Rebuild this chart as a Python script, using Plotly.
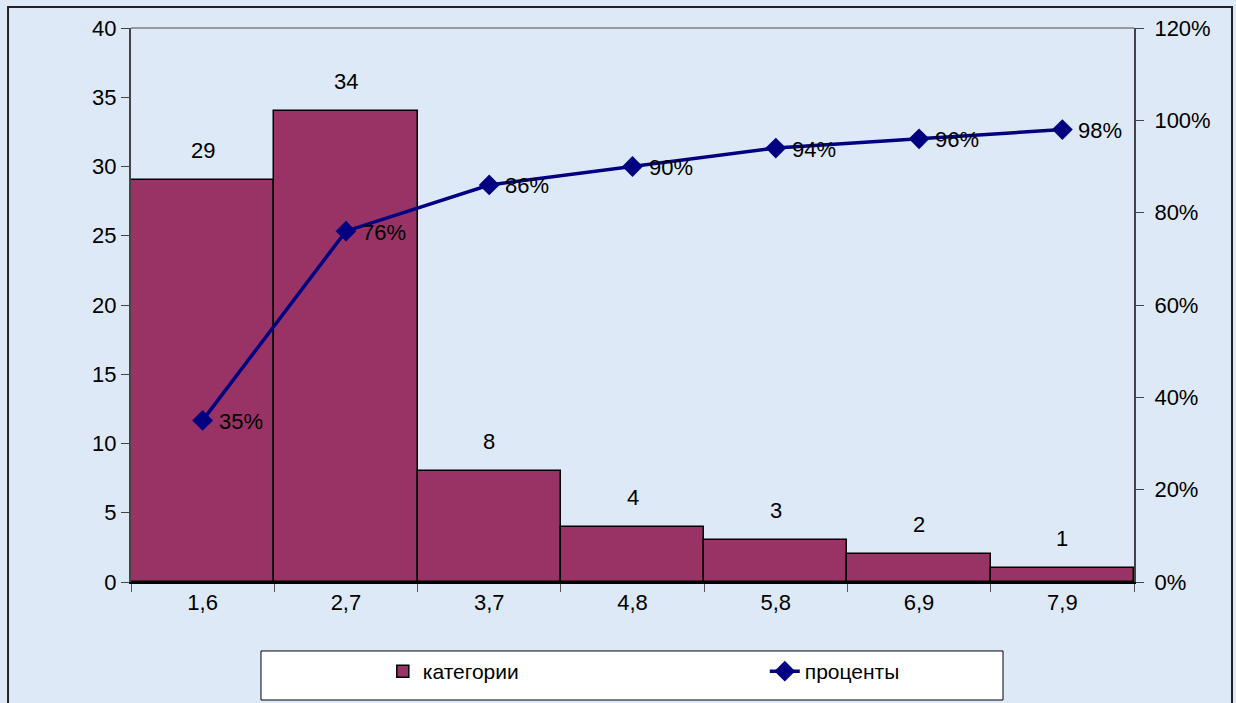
import plotly.graph_objects as go

# Pareto data: class centres, frequencies and cumulative shares
categories = ["1,6", "2,7", "3,7", "4,8", "5,8", "6,9", "7,9"]
counts = [29, 34, 8, 4, 3, 2, 1]
cumulative = [0.35, 0.76, 0.86, 0.90, 0.94, 0.96, 0.98]
count_axis_ticks = [0, 5, 10, 15, 20, 25, 30, 35, 40]
share_axis_ticks = [0, 0.2, 0.4, 0.6, 0.8, 1.0, 1.2]

FONT = "Liberation Sans, Arial, sans-serif"
BAR_COLOR = "#993366"
LINE_COLOR = "#000080"
BG = "#dde9f6"

fig = go.Figure()

fig.add_trace(go.Bar(
    x=categories, y=counts, name="категории",
    marker=dict(color=BAR_COLOR, line=dict(color="#000000", width=1.5)),
    yaxis="y",
))

fig.add_trace(go.Scatter(
    x=categories, y=cumulative, name="проценты",
    mode="lines+markers",
    line=dict(color=LINE_COLOR, width=3.5),
    marker=dict(symbol="diamond", size=16, color=LINE_COLOR),
    yaxis="y2",
))

# value labels above the bars
for c, v in zip(categories, counts):
    fig.add_annotation(x=c, y=v, xref="x", yref="y", text=str(v),
                       showarrow=False, yanchor="bottom", yshift=15,
                       font=dict(family=FONT, size=22, color="#000000"))

# percentage labels to the right of the line markers
for c, p in zip(categories, cumulative):
    fig.add_annotation(x=c, y=p, xref="x", yref="y2", text=f"{round(p * 100)}%",
                       showarrow=False, xanchor="left", yanchor="middle",
                       xshift=14, yshift=-1,
                       font=dict(family=FONT, size=22, color="#000000"))

# light grey top edge of the plot area, the outer chart frame and the legend box
fig.add_shape(type="line", xref="paper", yref="paper", x0=0, x1=1, y0=1, y1=1,
              line=dict(color="#808080", width=1.5))
fig.add_shape(type="rect", xref="paper", yref="paper",
              x0=-0.1226, x1=1.0977, y0=-0.25, y1=1.0379,
              line=dict(color="#222222", width=2), layer="below")
fig.add_shape(type="rect", xref="paper", yref="paper",
              x0=0.1296, x1=0.8694, y0=-0.213, y1=-0.1245,
              fillcolor="#ffffff", line=dict(color="#000000", width=1), layer="below")

fig.update_layout(
    width=1236, height=703,
    margin=dict(l=131, r=102, t=28, b=121),
    paper_bgcolor=BG, plot_bgcolor="rgba(0,0,0,0)",
    bargap=0,
    font=dict(family=FONT, size=22, color="#000000"),
    showlegend=True,
    legend=dict(
        orientation="h", xref="container", yref="container",
        x=0.211, y=0.074, xanchor="left", yanchor="top",
        bgcolor="rgba(0,0,0,0)", borderwidth=0,
        indentation=122, entrywidth=215,
        font=dict(family=FONT, size=21, color="#000000"),
    ),
    xaxis=dict(
        type="category", showgrid=False,
        showline=True, linecolor="#000000", linewidth=2,
        ticks="outside", tickson="boundaries", ticklen=8, tickcolor="#555555",
        tickfont=dict(size=22),
    ),
    yaxis=dict(
        range=[0, 40], tickvals=count_axis_ticks, showgrid=False, zeroline=False,
        showline=True, linecolor="#444444", linewidth=2,
        ticks="outside", ticklen=8, tickcolor="#444444",
        tickfont=dict(size=22),
    ),
    yaxis2=dict(
        range=[0, 1.2], tickvals=share_axis_ticks, tickformat=".0%",
        overlaying="y", side="right", showgrid=False, zeroline=False,
        showline=True, linecolor="#444444", linewidth=2,
        ticks="outside", ticklen=8, tickcolor="#444444",
        ticklabelstandoff=6,
        tickfont=dict(size=22),
    ),
)

fig.write_html("out.html")
